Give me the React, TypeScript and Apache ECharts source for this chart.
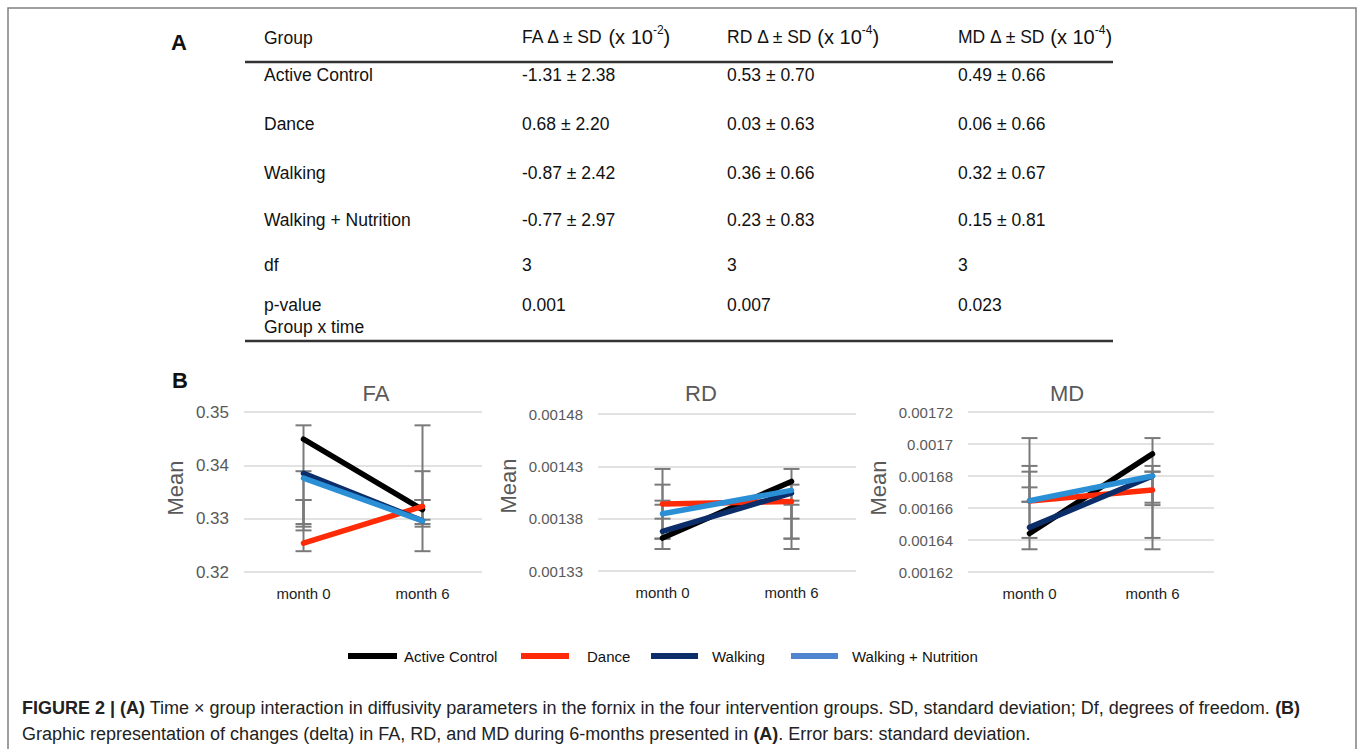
import React, { useEffect, useRef } from "react";
import * as echarts from "echarts";

// ---------- Data ----------
const groups = ["Active Control", "Dance", "Walking", "Walking + Nutrition"];
const months = ["month 0", "month 6"];
const lineColors = ["#000000", "#ff2a06", "#0b2e6b", "#2a8fd5"];
const legendColors = ["#000000", "#ff2a06", "#0b2e6b", "#4f86cf"];

// Table (A)
const tableHeaders = ["Group", "FA", "RD", "MD"];
const tableExponents = ["-2", "-4", "-4"];
const faDelta = ["-1.31 ± 2.38", "0.68 ± 2.20", "-0.87 ± 2.42", "-0.77 ± 2.97"];
const rdDelta = ["0.53 ± 0.70", "0.03 ± 0.63", "0.36 ± 0.66", "0.23 ± 0.83"];
const mdDelta = ["0.49 ± 0.66", "0.06 ± 0.66", "0.32 ± 0.67", "0.15 ± 0.81"];
const dfValues = ["3", "3", "3"];
const pValues = ["0.001", "0.007", "0.023"];

// Panel (B) means: [group][month]
const faMeans = [
  [0.3449, 0.3317],
  [0.3254, 0.3323],
  [0.3385, 0.3296],
  [0.3376, 0.3296],
];
const rdMeans = [
  [0.0013615, 0.0014156],
  [0.001394, 0.0013965],
  [0.0013678, 0.0014045],
  [0.0013847, 0.001407],
];
const mdMeans = [
  [0.0016441, 0.0016938],
  [0.0016644, 0.0016713],
  [0.0016479, 0.00168],
  [0.0016645, 0.00168],
];
// Error bars: [group][month] = [low, high]
const faErr = [
  [[0.3239, 0.3475], [0.3239, 0.3475]],
  [[0.3278, 0.3389], [0.3285, 0.3389]],
  [[0.3285, 0.3335], [0.329, 0.3335]],
  [[0.329, 0.3335], [0.3298, 0.3335]],
];
const rdErr = [
  [[0.001351, 0.0014275], [0.001351, 0.0014275]],
  [[0.0013609, 0.0014125], [0.0013609, 0.0014125]],
  [[0.0013609, 0.0013972], [0.0013609, 0.0013933]],
  [[0.00138, 0.0013933], [0.00138, 0.0013972]],
];
const mdErr = [
  [[0.0016342, 0.0017037], [0.0016342, 0.0017037]],
  [[0.0016413, 0.0016863], [0.0016413, 0.0016863]],
  [[0.0016639, 0.0016827], [0.0016618, 0.0016827]],
  [[0.0016639, 0.0016729], [0.0016633, 0.0016827]],
];
const panelTitles = ["FA", "RD", "MD"];
const yMins = [0.32, 0.00133, 0.00162];
const yMaxs = [0.35, 0.00148, 0.00172];
const yIntervals = [0.01, 0.00005, 0.00002];

const FONT = "'Liberation Sans', Arial, Helvetica, sans-serif";

export default function App() {
  const ref = useRef<HTMLDivElement>(null);
  useEffect(() => {
    document.body.style.margin = "0";
    document.body.style.overflow = "hidden";
    const chart = echarts.init(ref.current!, null, { renderer: "svg" });

    const grids = [
      { left: 244, top: 412, width: 238, height: 160 },
      { left: 598, top: 414, width: 258, height: 157 },
      { left: 968, top: 412, width: 246, height: 160 },
    ];
    const labelFont = [17, 15, 15];
    const labelMargin = [15, 15, 15];
    const titleX = [376, 701, 1067];
    const meanX = [175, 508, 878];
    const meanY = [488, 486, 488];

    const allMeans = [faMeans, rdMeans, mdMeans];
    const allErr = [faErr, rdErr, mdErr];

    const series: any[] = [];
    for (let p = 0; p < 3; p++) {
      const errData: any[] = [];
      allErr[p].forEach((g) => g.forEach((e, m) => errData.push([m, e[0], e[1]])));
      series.push({
        type: "custom",
        xAxisIndex: p,
        yAxisIndex: p,
        z: 1,
        silent: true,
        encode: { x: 0, y: [1, 2] },
        data: errData,
        renderItem: (params: any, api: any) => {
          const x = api.value(0);
          const lo = api.coord([x, api.value(1)]);
          const hi = api.coord([x, api.value(2)]);
          const half = 8;
          const st = { stroke: "#7a7a7a", lineWidth: 2 };
          return {
            type: "group",
            children: [
              { type: "line", shape: { x1: lo[0], y1: lo[1], x2: hi[0], y2: hi[1] }, style: st },
              { type: "line", shape: { x1: lo[0] - half, y1: lo[1], x2: lo[0] + half, y2: lo[1] }, style: st },
              { type: "line", shape: { x1: hi[0] - half, y1: hi[1], x2: hi[0] + half, y2: hi[1] }, style: st },
            ],
          };
        },
      });
      allMeans[p].forEach((vals, gi) => {
        series.push({
          type: "line",
          name: groups[gi],
          xAxisIndex: p,
          yAxisIndex: p,
          z: 3,
          data: vals,
          symbol: "none",
          lineStyle: { color: lineColors[gi], width: 5.5, cap: "round" },
          itemStyle: { color: lineColors[gi] },
        });
      });
    }

    const graphic: any[] = [];
    // frame
    graphic.push({
      type: "polyline",
      shape: { points: [[8, 760], [8, 8], [1356, 8], [1356, 760]] },
      style: { stroke: "#808080", lineWidth: 1.5, fill: null },
    });
    const txt = (text: string, x: number, y: number, o: any = {}) => ({
      type: "text",
      x,
      y,
      rotation: o.rotation || 0,
      style: {
        text,
        fontFamily: FONT,
        fontSize: o.fontSize || 17.5,
        fontWeight: o.fontWeight || "normal",
        fill: o.fill || "#111",
        align: o.align || "left",
        verticalAlign: "middle",
        textAlign: o.align || "left",
        textVerticalAlign: "middle",
        rich: o.rich,
      },
    });
    // Panel letters
    graphic.push(txt("A", 171, 42, { fontSize: 22, fontWeight: "bold" }));
    graphic.push(txt("B", 172, 380, { fontSize: 22, fontWeight: "bold" }));
    // Table
    const colX = [264, 522, 727, 958];
    const headRich = {
      a: { fontFamily: FONT, fontSize: 17.5, fill: "#111", lineHeight: 26, verticalAlign: "middle" },
      b: { fontFamily: FONT, fontSize: 20, fill: "#111", lineHeight: 26, verticalAlign: "middle" },
      s: { fontFamily: FONT, fontSize: 12, fill: "#111", lineHeight: 14, verticalAlign: "top" },
    };
    graphic.push(txt(tableHeaders[0], colX[0], 38));
    for (let c = 1; c < 4; c++) {
      graphic.push(
        txt(`{a|${tableHeaders[c]} Δ ± SD }{b|(x 10}{s|${tableExponents[c - 1]}}{b|)}`, colX[c], 37, {
          rich: headRich,
        })
      );
    }
    graphic.push({ type: "line", shape: { x1: 245, y1: 62, x2: 1113, y2: 62 }, style: { stroke: "#333", lineWidth: 2.5 } });
    const rowY = [75, 124, 173, 220];
    groups.forEach((g, i) => {
      graphic.push(txt(g, colX[0], rowY[i]));
      graphic.push(txt(faDelta[i], colX[1], rowY[i]));
      graphic.push(txt(rdDelta[i], colX[2], rowY[i]));
      graphic.push(txt(mdDelta[i], colX[3], rowY[i]));
    });
    graphic.push(txt("df", colX[0], 265));
    dfValues.forEach((v, i) => graphic.push(txt(v, colX[i + 1], 265)));
    graphic.push(txt("p-value", colX[0], 305));
    graphic.push(txt("Group x time", colX[0], 327));
    pValues.forEach((v, i) => graphic.push(txt(v, colX[i + 1], 305)));
    graphic.push({ type: "line", shape: { x1: 245, y1: 341, x2: 1113, y2: 341 }, style: { stroke: "#333", lineWidth: 2.5 } });

    // Panel titles and axis names
    for (let p = 0; p < 3; p++) {
      graphic.push(txt(panelTitles[p], titleX[p], 393, { fontSize: 22, fill: "#595959", align: "center" }));
      graphic.push(
        txt("Mean", meanX[p], meanY[p], { fontSize: 22, fill: "#595959", align: "center", rotation: Math.PI / 2 })
      );
    }

    // Legend
    const legRect = [[348, 397], [521, 569], [651, 698], [791, 838]];
    const legText = [404, 587, 712, 852];
    groups.forEach((g, i) => {
      graphic.push({
        type: "rect",
        shape: { x: legRect[i][0], y: 653, width: legRect[i][1] - legRect[i][0], height: 6 },
        style: { fill: legendColors[i] },
      });
      graphic.push(txt(g, legText[i], 656, { fontSize: 15 }));
    });

    // Caption
    const capRich = {
      n: { fontFamily: FONT, fontSize: 18, fill: "#222" },
      b: { fontFamily: FONT, fontSize: 18, fill: "#222", fontWeight: "bold" },
    };
    graphic.push(
      txt(
        "{b|FIGURE 2 | (A)}{n| Time × group interaction in diffusivity parameters in the fornix in the four intervention groups. SD, standard deviation; Df, degrees of freedom. }{b|(B)}",
        22,
        708,
        { rich: capRich }
      )
    );
    graphic.push(
      txt(
        "{n|Graphic representation of changes (delta) in FA, RD, and MD during 6-months presented in }{b|(A)}{n|. Error bars: standard deviation.}",
        22,
        734,
        { rich: capRich }
      )
    );

    const fmt = (v: number) => String(Number(v.toPrecision(6)));

    chart.setOption({
      animation: false,
      backgroundColor: "#ffffff",
      grid: grids,
      xAxis: grids.map((_, p) => ({
        type: "category",
        gridIndex: p,
        data: months,
        boundaryGap: true,
        axisLine: { show: false },
        axisTick: { show: false },
        axisLabel: { color: "#222", fontSize: 15, fontFamily: FONT, margin: 14 },
      })),
      yAxis: grids.map((_, p) => ({
        type: "value",
        gridIndex: p,
        min: yMins[p],
        max: yMaxs[p],
        interval: yIntervals[p],
        axisLine: { show: false },
        axisTick: { show: false },
        splitLine: { lineStyle: { color: "#d9d9d9", width: 1.5 } },
        axisLabel: {
          color: "#595959",
          fontSize: labelFont[p],
          fontFamily: FONT,
          margin: labelMargin[p],
          formatter: fmt,
        },
      })),
      series,
      graphic,
    });
    return () => chart.dispose();
  }, []);
  return <div ref={ref} style={{ width: 1362, height: 749 }} />;
}
